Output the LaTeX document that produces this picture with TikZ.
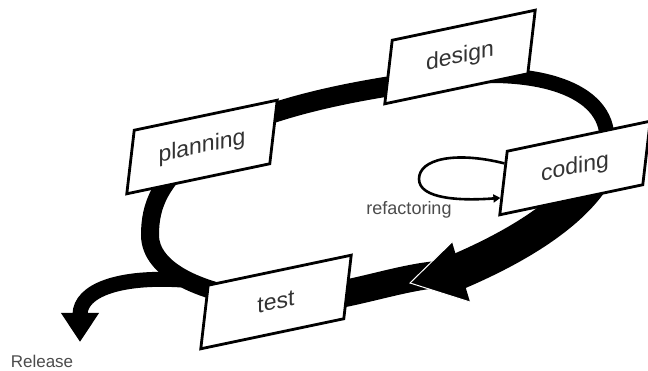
\documentclass[tikz,border=0pt]{standalone}
\usepackage{fontspec}
\setmainfont{Liberation Sans}
\usepackage{xcolor}
\usepackage{tikz}
\usetikzlibrary{arrows.meta,backgrounds,calc}

\begin{document}
\begin{tikzpicture}[x=1pt, y=1pt,
  phase/.style={draw, line width=2.8pt, fill=white, inner sep=0pt,
    minimum width=143pt, minimum height=62pt, yslant=0.21, xslant=0.12,
    label={[tag]center:#1}},
  tag/.style={yslant=0.21, text=black!80, font=\fontsize{23}{26}\selectfont},
  band/.style={draw=black, line width=#1},
  note/.style={text=black!70, font=\fontsize{18}{20}\selectfont}]
\useasboundingbox (0,0) rectangle (648,371);

\node[phase=planning] (planning) at (202,224) {};
\node[phase=design] (design) at (460,314) {};
\node[phase=coding] (coding) at (575,203) {};
\node[phase=test] (test) at (276,69) {};

\coordinate (ah-tip) at (410,88);
\coordinate (ah-up) at (452,129);
\coordinate (ah-low) at (470,69);
\coordinate (turn) at ($(ah-tip)!0.85!($(ah-up)!0.5!(ah-low)$)$);
\coordinate (exit) at (182,91);
\coordinate (out) at (80,29);

\begin{scope}[on background layer]
\fill[white] (0,0) rectangle (648,371);
\draw[band=20pt] (planning.center) .. controls (240,253) and (320,278) .. ([shift={(-10,-21)}]design.center);
\draw[band=15pt] ([shift={(-10,-21)}]design.center) .. controls (535,303) and (608,283) .. ([shift={(32,28)}]coding.center);
\draw[band=36pt] ([shift={(32,28)}]coding.center) .. controls (600,166) and (505,119) .. (turn);
\draw[band=27pt] (turn) .. controls (400,97) and (350,71) .. (test.center);
\draw[band=18pt] (test.center) .. controls (200,76) and (150,101) .. (150,136) .. controls (150,166) and (160,191) .. (planning.center);
\end{scope}

\fill (ah-tip) -- (ah-up) -- (ah-low) -- cycle;
\draw[white, line width=1pt] (ah-up) -- (ah-tip) -- (ah-low);

\draw[line width=15pt, -{Triangle[width=36pt,length=29pt]}] (exit) .. controls (120,95) and (80,81) .. (out);

\draw[line width=2.6pt, -{Triangle[width=8pt,length=7pt]}] ($(coding.north west)!0.2!(coding.south west)$) .. controls (455,220) and (419,212) .. (419,192) .. controls (419,172) and (460,170) .. ($(coding.north west)!0.72!(coding.south west)$);

\node[note] (refac) at (409,161) {refactoring};
\node[note, font=\fontsize{17}{20}\selectfont] (release) at (42,10) {Release};
\end{tikzpicture}
\end{document}
